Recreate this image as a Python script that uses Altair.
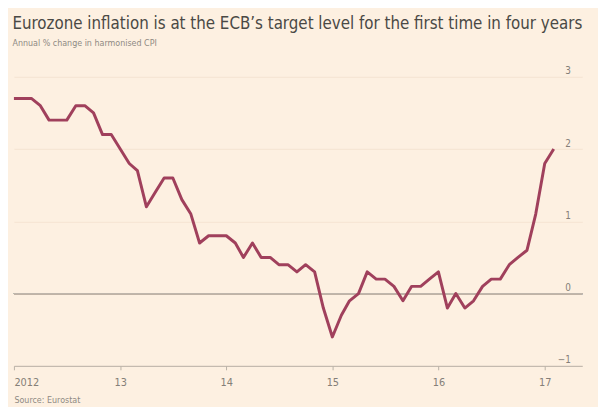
import altair as alt
import pandas as pd

# Monthly annual % change in eurozone HICP, Jan 2012 - Feb 2017
cpi_2012 = [2.7, 2.7, 2.7, 2.6, 2.4, 2.4, 2.4, 2.6, 2.6, 2.5, 2.2, 2.2]
cpi_2013 = [2.0, 1.8, 1.7, 1.2, 1.4, 1.6, 1.6, 1.3, 1.1, 0.7, 0.8, 0.8]
cpi_2014 = [0.8, 0.7, 0.5, 0.7, 0.5, 0.5, 0.4, 0.4, 0.3, 0.4, 0.3, -0.2]
cpi_2015 = [-0.6, -0.3, -0.1, 0.0, 0.3, 0.2, 0.2, 0.1, -0.1, 0.1, 0.1, 0.2]
cpi_2016 = [0.3, -0.2, 0.0, -0.2, -0.1, 0.1, 0.2, 0.2, 0.4, 0.5, 0.6, 1.1]
cpi_2017 = [1.8, 2.0]

years = [2012, 2013, 2014, 2015, 2016, 2017]
y_ticks = [-1, 0, 1, 2, 3]

title_text = "Eurozone inflation is at the ECB\u2019s target level for the first time in four years"
subtitle_text = "Annual % change in harmonised CPI"
source_text = "Source: Eurostat"

values = cpi_2012 + cpi_2013 + cpi_2014 + cpi_2015 + cpi_2016 + cpi_2017
dates = pd.date_range("2012-01-01", periods=len(values), freq="MS").strftime("%Y-%m-%d").tolist()
df = pd.DataFrame({"date": dates, "cpi": values})

FONT = "Liberation Sans Narrow, DejaVu Sans Condensed, Roboto, sans-serif"
BG = "#fdf0e1"
LABEL = "#857f78"

x_enc = alt.X(
    "date:T",
    scale=alt.Scale(
        type="utc",
        domain=[
            alt.DateTime(year=2012, month=1, date=1, utc=True),
            alt.DateTime(year=2017, month=5, date=10, utc=True),
        ],
    ),
    axis=alt.Axis(
        values=[alt.DateTime(year=y, month=1, date=1, utc=True) for y in years],
        labelExpr="utcFormat(datum.value, '%Y') == '2012' ? '2012' : utcFormat(datum.value, '%y')",
        grid=False,
        domainColor="#b9b1a7",
        tickColor="#b9b1a7",
        tickSize=4,
        labelFlush=True,
        labelFontSize=11,
        labelColor=LABEL,
        labelPadding=7,
        title=source_text,
        titleAnchor="start",
        titleAlign="left",
        titleFontSize=9,
        titleFontWeight="normal",
        titleColor="#8f8a83",
        titlePadding=8,
    ),
)

y_enc = alt.Y(
    "cpi:Q",
    scale=alt.Scale(domain=[-1, 3], nice=False, zero=False),
    axis=alt.Axis(
        orient="right",
        values=y_ticks,
        format="d",
        domain=False,
        ticks=False,
        tickSize=0,
        grid=True,
        gridColor="#f4e3d1",
        labelAlign="right",
        labelPadding=-12,
        labelBaseline="bottom",
        labelOffset=-1,
        labelFontSize=10,
        labelColor=LABEL,
        title=None,
    ),
)

zero_rule = alt.Chart().mark_rule(color="#bfb7ad", strokeWidth=1).encode(y=alt.datum(0))

line = alt.Chart().mark_line(color="#a0405c", strokeWidth=3, strokeJoin="round").encode(
    x=x_enc, y=y_enc
)

chart = (
    alt.layer(zero_rule, line, data=df)
    .properties(
        width=598,
        height=399,
        autosize=alt.AutoSizeParams(type="fit", contains="padding"),
        padding={"left": 4, "top": 5, "right": 15, "bottom": 0},
        background=BG,
        title=alt.Title(
            title_text,
            subtitle=subtitle_text,
            anchor="start",
            font=FONT,
            fontSize=17,
            fontWeight="normal",
            color="#4a4945",
            subtitleFont=FONT,
            subtitleFontSize=9,
            subtitleColor="#8f8a83",
            subtitlePadding=6,
            offset=17,
        ),
    )
    .configure_view(stroke=None)
    .configure_axis(labelFont=FONT, titleFont=FONT)
)

chart.save("out.html", embed_options={"renderer": "svg", "actions": False})
